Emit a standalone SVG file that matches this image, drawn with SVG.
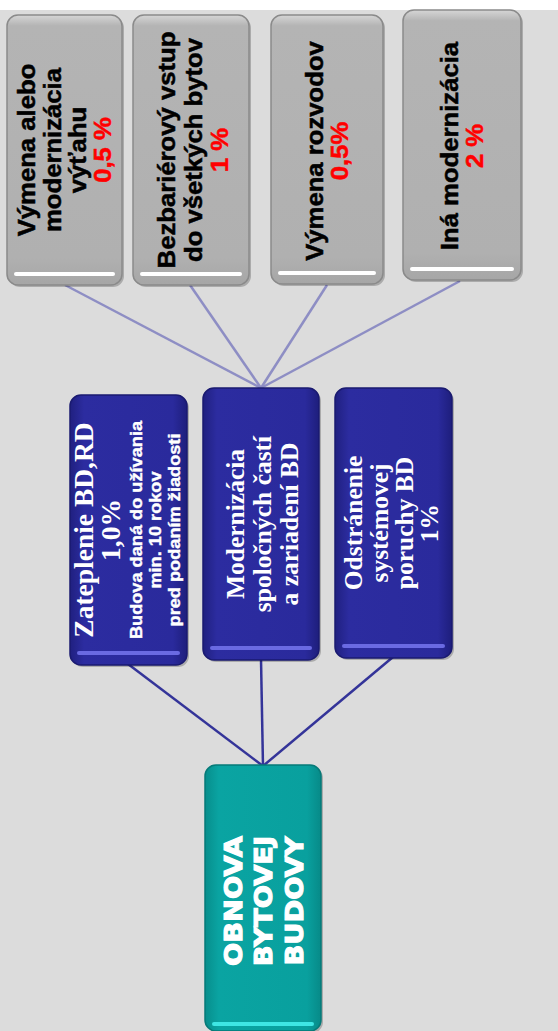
<svg xmlns="http://www.w3.org/2000/svg" width="558" height="1031" viewBox="0 0 558 1031">
<style>
.g-box{fill:url(#gGray);stroke:#8a8a8a;stroke-width:1.5}
.b-box{fill:url(#gBlue);stroke:#1a1a70;stroke-width:1.5}
.t-box{fill:url(#gTeal);stroke:#067a78;stroke-width:1.5}
.shadow{fill:#000;opacity:0.22}
.hl-g{fill:#ffffff}
.hl-b{fill:#6a6ae2}
.hl-t{fill:#3ee6e4}
.sans{font-family:"Liberation Sans",Arial,sans-serif;font-weight:bold;text-anchor:middle}
.serif{font-family:"Liberation Serif","Times New Roman",serif;font-weight:bold;text-anchor:middle;fill:#fff}
.gt{font-size:24px;fill:#000;stroke:#000;stroke-width:0.5}
.red{fill:#ff0000;stroke:#ff0000}
.small{font-size:17px;fill:#fff;stroke:#fff;stroke-width:0.4}
.head{font-family:"DejaVu Sans",sans-serif;font-weight:bold;font-size:24px;fill:#fff;stroke:#fff;stroke-width:1.1;text-anchor:middle}
.c-dark{stroke:#343499;stroke-width:2.5;fill:none}
.c-light{stroke:#8e8ec4;stroke-width:2.5;fill:none}
</style>
<defs>
<linearGradient id="gGray" x1="0" y1="0" x2="0" y2="1">
<stop offset="0" stop-color="#d6d6d6"/>
<stop offset="0.04" stop-color="#b4b4b4"/>
<stop offset="0.9" stop-color="#b0b0b0"/>
<stop offset="1" stop-color="#a6a6a6"/>
</linearGradient>
<linearGradient id="gBlue" x1="0" y1="0" x2="1" y2="0">
<stop offset="0" stop-color="#202080"/>
<stop offset="0.12" stop-color="#2c2ca0"/>
<stop offset="0.88" stop-color="#2a2a9c"/>
<stop offset="1" stop-color="#1e1e7c"/>
</linearGradient>
<linearGradient id="gTeal" x1="0" y1="0" x2="1" y2="0">
<stop offset="0" stop-color="#078e8c"/>
<stop offset="0.12" stop-color="#0aa4a2"/>
<stop offset="0.88" stop-color="#09a09e"/>
<stop offset="1" stop-color="#078a88"/>
</linearGradient>
</defs>
<rect x="0" y="0" width="558" height="1031" fill="#ffffff"/>
<rect x="0" y="10" width="558" height="1021" fill="#dcdcdc"/>
<g id="connectors">
<line class="c-light" x1="261" y1="388" x2="65" y2="285"/>
<line class="c-light" x1="261" y1="388" x2="190" y2="285"/>
<line class="c-light" x1="261" y1="388" x2="327" y2="285"/>
<line class="c-light" x1="261" y1="388" x2="460" y2="281"/>
<line class="c-dark" x1="263" y1="766" x2="128" y2="664"/>
<line class="c-dark" x1="263" y1="766" x2="261" y2="659"/>
<line class="c-dark" x1="263" y1="766" x2="393" y2="657"/>
</g>
<g id="node-vytah">
<rect class="shadow" x="9" y="17" width="115" height="270" rx="11"/>
<rect class="g-box" x="7" y="15" width="115" height="270" rx="11"/>
<rect class="hl-g" x="14" y="272" width="101" height="4" rx="2"/>
<text class="sans gt" transform="translate(64.5,150) rotate(-90) scale(1.07,1)"><tspan x="0" y="-29.5">Výmena alebo</tspan><tspan x="0" y="-3.5">modernizácia</tspan><tspan x="0" y="21.5">výťahu</tspan><tspan class="red" x="0" y="46.5">0,5 %</tspan></text>
</g>
<g id="node-bezbarierovy">
<rect class="shadow" x="135" y="17" width="116" height="270" rx="11"/>
<rect class="g-box" x="133" y="15" width="116" height="270" rx="11"/>
<rect class="hl-g" x="140" y="272" width="102" height="4" rx="2"/>
<text class="sans gt" transform="translate(191,150) rotate(-90) scale(1.07,1)"><tspan x="0" y="-16">Bezbariérový vstup</tspan><tspan x="0" y="11">do všetkých bytov</tspan><tspan class="red" x="0" y="37">1 %</tspan></text>
</g>
<g id="node-rozvody">
<rect class="shadow" x="273" y="17" width="112" height="269" rx="11"/>
<rect class="g-box" x="271" y="15" width="112" height="269" rx="11"/>
<rect class="hl-g" x="278" y="271" width="98" height="4" rx="2"/>
<text class="sans gt" transform="translate(327,151) rotate(-90) scale(1.07,1)"><tspan x="0" y="-4">Výmena rozvodov</tspan><tspan class="red" x="0" y="21">0,5%</tspan></text>
</g>
<g id="node-ina">
<rect class="shadow" x="405" y="12" width="118" height="270" rx="11"/>
<rect class="g-box" x="403" y="10" width="118" height="270" rx="11"/>
<rect class="hl-g" x="410" y="267" width="104" height="4" rx="2"/>
<text class="sans gt" transform="translate(462,146) rotate(-90) scale(1.07,1)"><tspan x="0" y="-4">Iná modernizácia</tspan><tspan class="red" x="0" y="21">2 %</tspan></text>
</g>
<g id="node-zateplenie">
<rect class="shadow" x="72" y="397" width="117" height="270" rx="11"/>
<rect class="b-box" x="70" y="395" width="117" height="270" rx="11"/>
<rect class="hl-b" x="77" y="651" width="103" height="4" rx="2"/>
<text class="serif" transform="translate(128,530) rotate(-90)"><tspan x="0" y="-35" font-size="27.5">Zateplenie BD,RD</tspan><tspan x="0" y="-8" font-size="27.5">1,0%</tspan></text>
<text class="sans small" transform="translate(128,530) rotate(-90) scale(1.07,1)"><tspan x="0" y="14">Budova daná do užívania</tspan><tspan x="0" y="33">min. 10 rokov</tspan><tspan x="0" y="52">pred podaním žiadosti</tspan></text>
</g>
<g id="node-modernizacia">
<rect class="shadow" x="205" y="390" width="116" height="272" rx="11"/>
<rect class="b-box" x="203" y="388" width="116" height="272" rx="11"/>
<rect class="hl-b" x="210" y="646" width="102" height="4" rx="2"/>
<text class="serif" font-size="25.5" transform="translate(261,524) rotate(-90)"><tspan x="0" y="-17">Modernizácia</tspan><tspan x="0" y="10">spoločných častí</tspan><tspan x="0" y="37">a zariadení BD</tspan></text>
</g>
<g id="node-odstranenie">
<rect class="shadow" x="337" y="390" width="117" height="270" rx="11"/>
<rect class="b-box" x="335" y="388" width="117" height="270" rx="11"/>
<rect class="hl-b" x="342" y="644" width="103" height="4" rx="2"/>
<text class="serif" font-size="25.5" transform="translate(393,523) rotate(-90)"><tspan x="0" y="-31">Odstránenie</tspan><tspan x="0" y="-5">systémovej</tspan><tspan x="0" y="20">poruchy BD</tspan><tspan x="0" y="45">1%</tspan></text>
</g>
<g id="node-obnova">
<rect class="shadow" x="207" y="767" width="116" height="266" rx="11"/>
<rect class="t-box" x="205" y="765" width="116" height="266" rx="11"/>
<rect class="hl-t" x="212" y="1022" width="102" height="4" rx="2"/>
<text class="head" transform="translate(263,901) rotate(-90) scale(1.14,1)"><tspan x="0" y="-21">OBNOVA</tspan><tspan x="0" y="9">BYTOVEJ</tspan><tspan x="0" y="40">BUDOVY</tspan></text>
</g>
</svg>
